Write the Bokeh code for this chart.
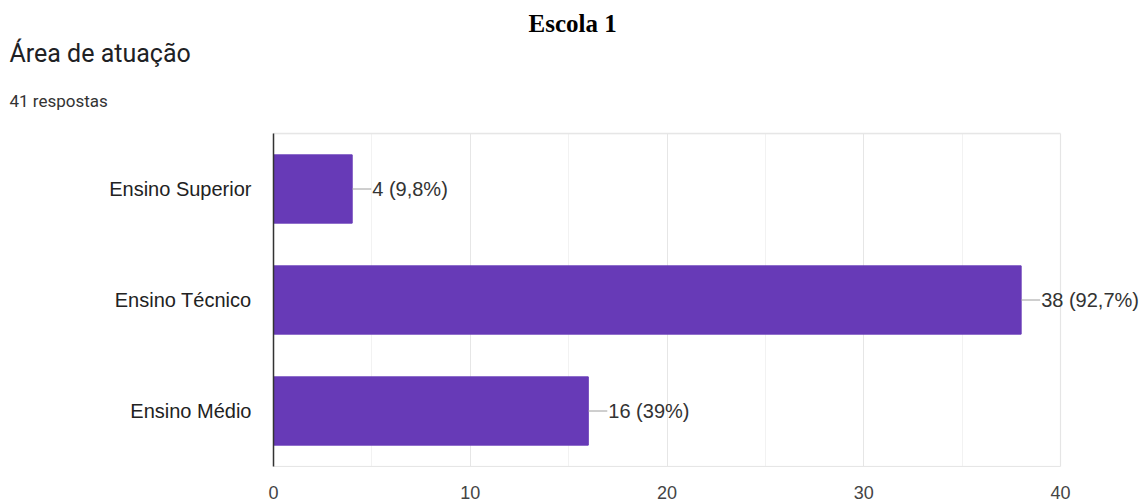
from bokeh.plotting import figure
from bokeh.models import (FactorRange, Range1d, SingleIntervalTicker, FixedTicker, ColumnDataSource,
                          BoxAnnotation, Title, LinearAxis)
from bokeh.core.properties import value
from bokeh.embed import file_html
from bokeh.resources import INLINE

categories = ["Ensino Médio", "Ensino Técnico", "Ensino Superior"]
counts = [16, 38, 4]
labels = ["16 (39%)", "38 (92,7%)", "4 (9,8%)"]
x_max = 40

src = ColumnDataSource(dict(cat=categories, val=counts, lab=labels))

W = 1143
LEFT = 273
AXIS_END_PX = 1060
x_end = x_max * (W - LEFT) / (AXIS_END_PX - LEFT)

p = figure(width=W, height=501, output_backend="svg", toolbar_location=None,
           y_range=FactorRange(factors=categories, range_padding=0),
           x_range=Range1d(0, x_end),
           min_border_left=LEFT, min_border_right=0, min_border_top=133, min_border_bottom=31)
p.outline_line_color = None

xa = p.below[0]
xa.ticker = SingleIntervalTicker(interval=10, num_minor_ticks=2)
xa.bounds = (0, x_max)
xa.axis_line_color = "#e6e6e6"
xa.major_tick_line_color = None
xa.minor_tick_line_color = None
xa.major_label_text_font = "Liberation Sans"
xa.major_label_text_font_size = "18px"
xa.major_label_text_color = "#444444"
xa.major_label_standoff = 13

ya = p.left[0]
ya.axis_line_color = "#333333"
ya.axis_line_width = 1.5
ya.major_tick_line_color = None
ya.minor_tick_line_color = None
ya.major_label_text_font = "Liberation Sans"
ya.major_label_text_font_size = "20px"
ya.major_label_text_color = "#222222"
ya.major_label_standoff = 16

p.xgrid.grid_line_color = "#e6e6e6"
p.xgrid.minor_grid_line_color = "#f2f2f2"
p.xgrid.bounds = (0, x_max)
p.ygrid.grid_line_color = None

# top border of the plot area (an unlabeled axis)
top_axis = LinearAxis(ticker=FixedTicker(ticks=[]), bounds=(0, x_max),
                      axis_line_color="#e6e6e6", axis_line_width=1.5,
                      major_tick_line_color=None, minor_tick_line_color=None,
                      major_tick_out=0, major_tick_in=0, minor_tick_out=0, minor_tick_in=0,
                      major_label_standoff=0)
p.add_layout(top_axis, "above")

# titles, stacked above (first added is nearest the plot area)
p.add_layout(Title(text="41 respostas", text_font="Roboto", text_font_size="17px",
                   text_font_style="normal", text_color="#333333", align="left",
                   offset=10 - LEFT - 1, vertical_align="top", standoff=42), "above")
p.add_layout(Title(text="Área de atuação", text_font="Roboto", text_font_size="25px",
                   text_font_style="normal", text_color="#202124", align="left",
                   offset=10 - LEFT - 1, vertical_align="top", standoff=0), "above")
p.add_layout(Title(text="Escola 1", text_font="Liberation Serif", text_font_size="25px",
                   text_font_style="bold", text_color="black", align="left",
                   offset=529 - LEFT - 1, vertical_align="top", standoff=0), "above")

frame_box = BoxAnnotation(left=0, right=x_max, fill_color=None, line_color="#e6e6e6",
                          line_width=1.5, level="underlay")
p.add_layout(frame_box)

p.hbar(y="cat", right="val", left=0, height=0.615, source=src,
       fill_color="#673AB7", line_color="#673AB7")
p.ray(x="val", y="cat", length=19, length_units="screen", angle=0, source=src,
      line_color="#9e9e9e", line_width=1)
p.text(x="val", y="cat", text="lab", source=src, x_offset=20, text_baseline="middle",
       text_align="left", text_font=value("Liberation Sans"), text_font_size="20px",
       text_color="#333333")

open("out.html", "w").write(file_html(p, INLINE))
